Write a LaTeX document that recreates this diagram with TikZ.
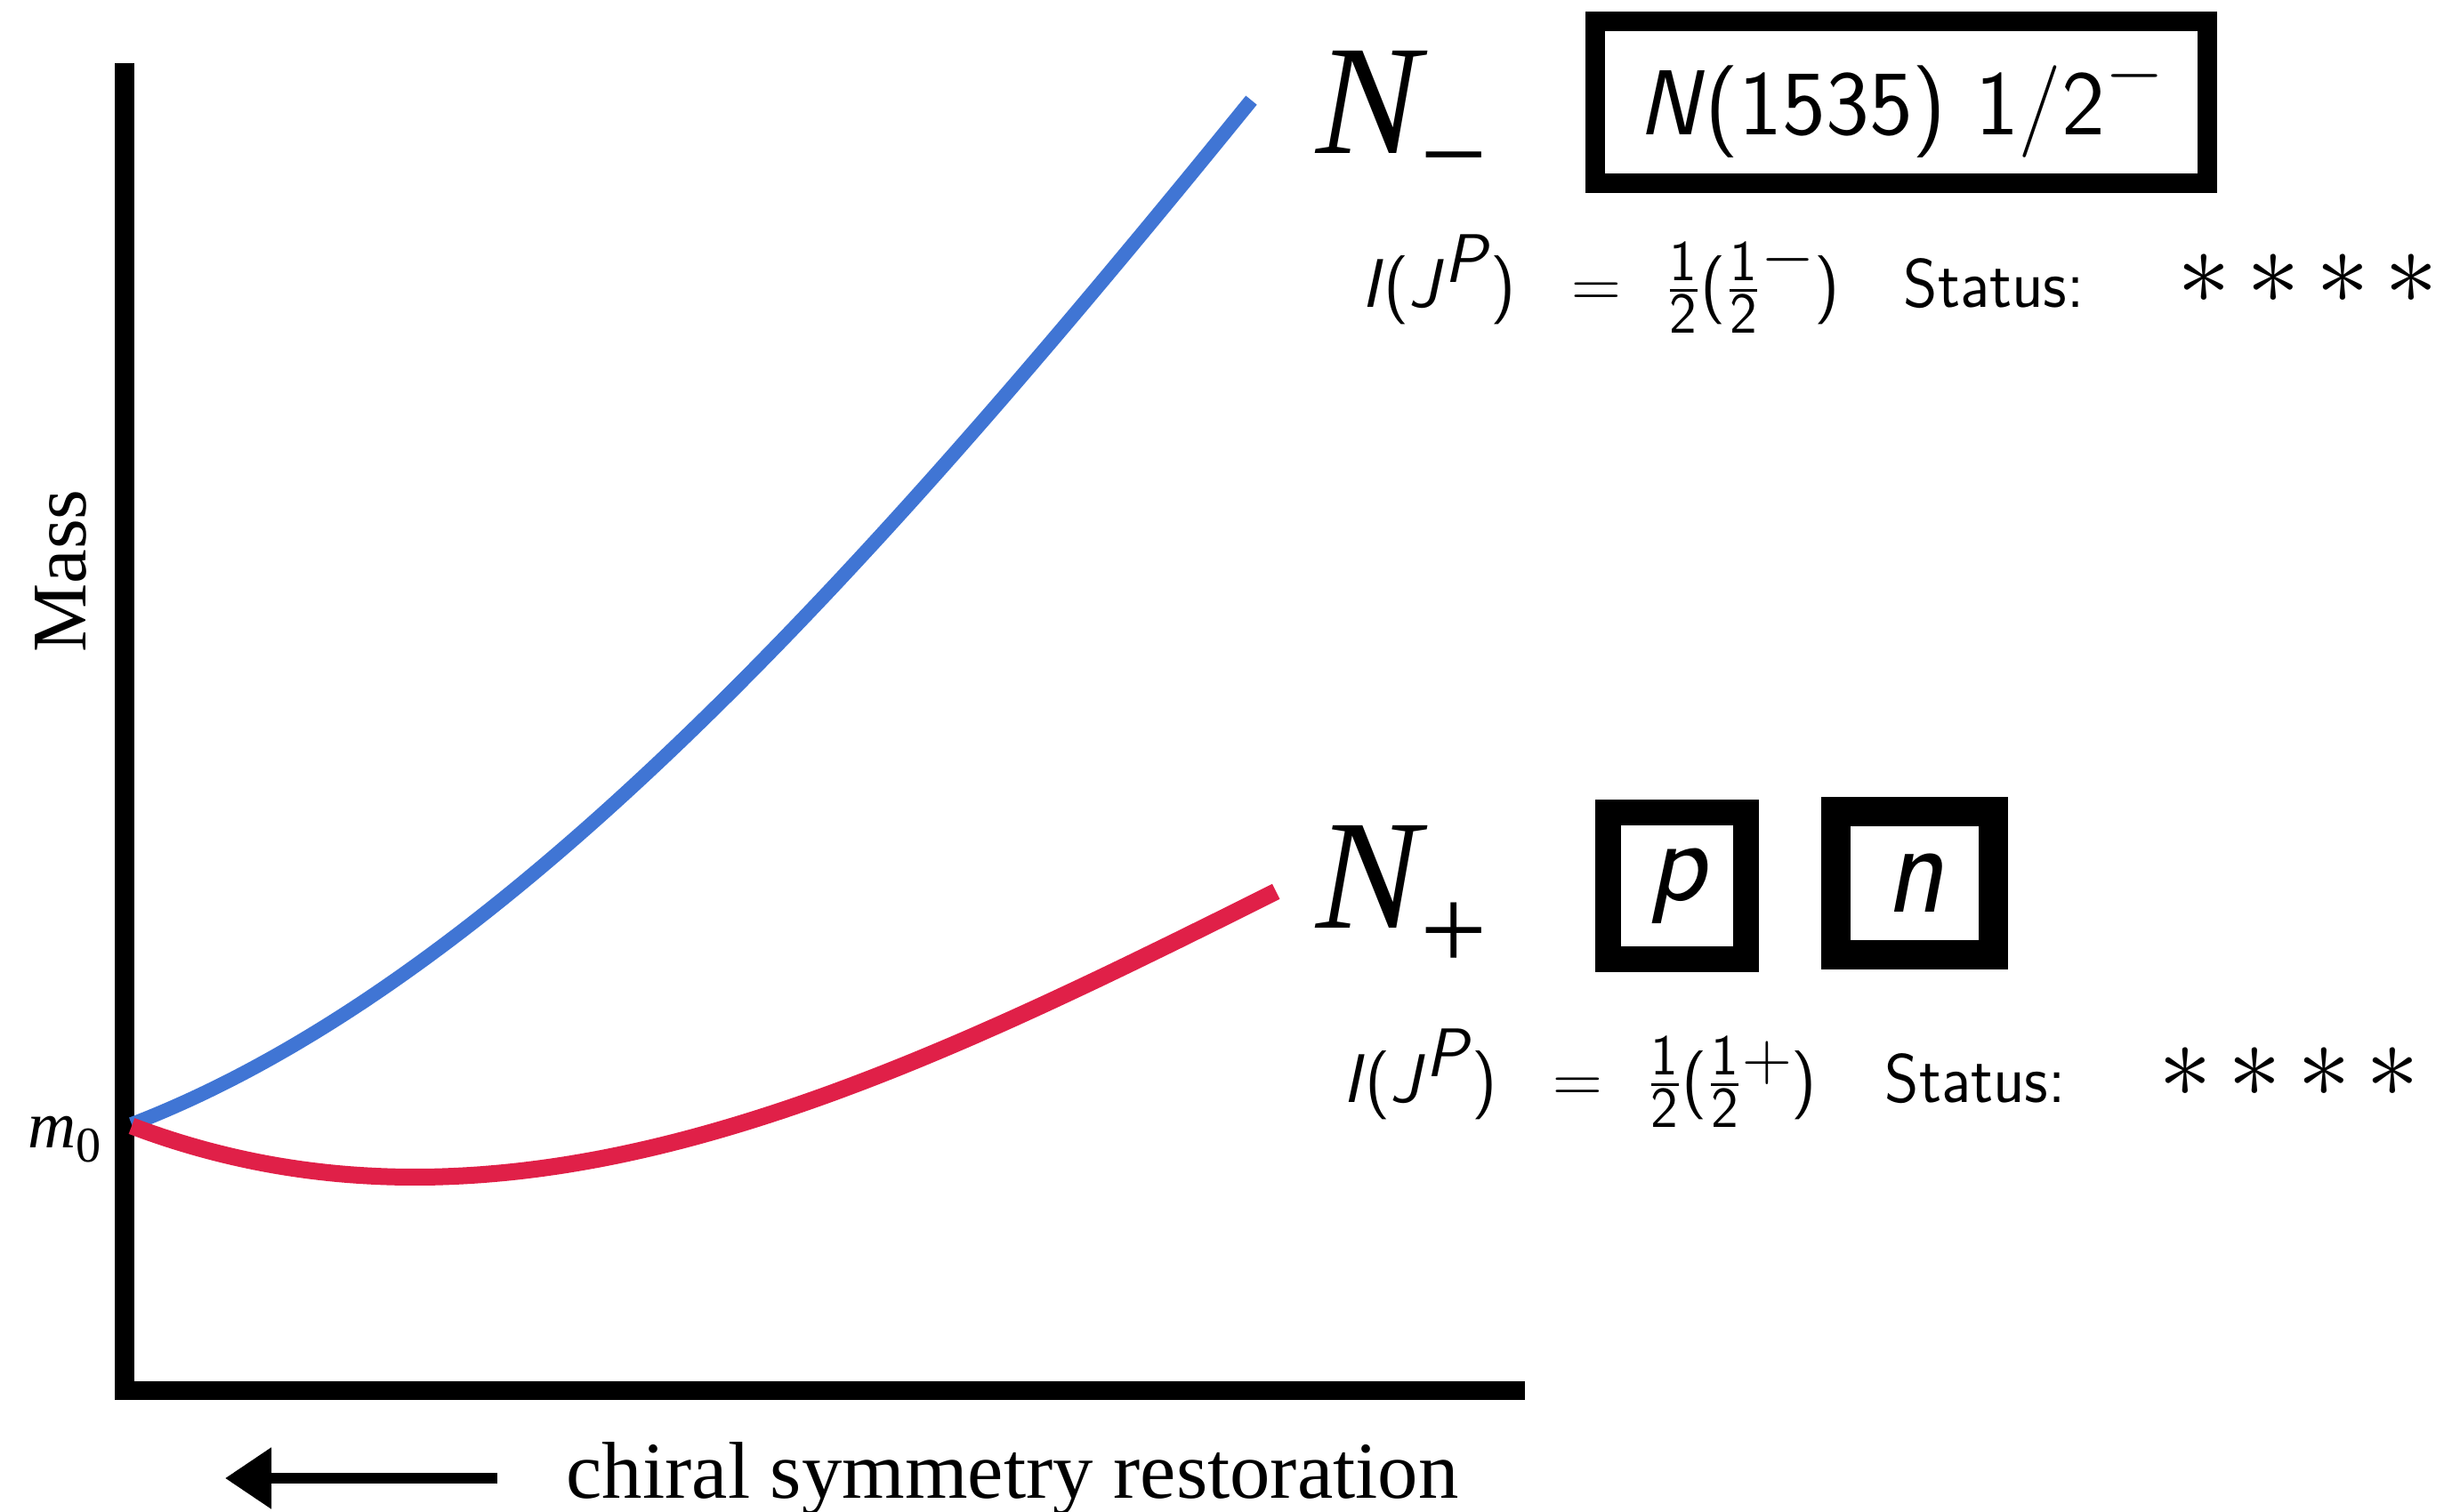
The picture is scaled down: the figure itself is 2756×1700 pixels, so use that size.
\RequirePackage{fix-cm}
\documentclass[tikz,border=0pt]{standalone}
\usepackage{amsmath}
\usepackage{fontspec}
\setmainfont{Liberation Serif}
\usetikzlibrary{arrows.meta,positioning}
\definecolor{upblue}{RGB}{64,117,212}
\definecolor{downred}{RGB}{224,32,72}
\newcommand{\halffrac}{\tfrac{\text{\fontsize{18.5}{20}\selectfont 1}}{\text{\fontsize{18.5}{20}\selectfont 2}}}
\tikzset{
  chalk/.style={line width=0.21cm, black, line join=miter},
  chalkarrow/.style={line width=0.12cm, black, -{Triangle[length=0.52cm, width=0.66cm]}},
  curve/.style={line width=0.17cm, #1},
  axislabel/.style={inner sep=0pt, font=\fontsize{#1}{#1}\selectfont},
  bigN/.style={anchor=base west, inner sep=0pt, font=\fontsize{50}{50}\selectfont\itshape},
  tag/.style={rectangle, draw, line width=#1, inner sep=0pt},
  info/.style={anchor=base west, inner sep=0pt, font=\fontsize{22}{26}\selectfont\sffamily},
  stars/.style={anchor=base west, inner sep=0pt, font=\fontsize{34}{34}\selectfont},
}

\begin{document}
\begin{tikzpicture}[x=0.01cm, y=-0.01cm]
\useasboundingbox (0,0) rectangle (2756,1700);

% -------------------- Axes --------------------
\coordinate (ytop) at (140,71);
\coordinate (xend) at (1714,1563);
\draw[chalk] (ytop) |- (xend);

\node[axislabel=24.7, rotate=90] (mass) at (68,642) {Mass};
\node[axislabel=21.3, anchor=base west] (mzero) at (31,1290)
    {\itshape m\raisebox{-0.16cm}{\upshape\fontsize{16}{16}\selectfont 0}};

\coordinate (arrowstart) at (559,1662);
\coordinate (arrowtip) at (253,1662);
\draw[chalkarrow] (arrowstart) -- (arrowtip);
\node[axislabel=25.8, anchor=base west] (restore) at (636,1684) {chiral symmetry restoration};

% -------------------- Mass curves --------------------
\coordinate (m0) at (148,1265);
\draw[curve=upblue, line width=0.16cm] plot[domain=0:1.259, samples=80, smooth]
    ({148+1000*\x}, {1264-1000*(0.3845*\x+0.5907*\x*\x-0.1345*\x*\x*\x)});
\draw[curve=downred, line width=0.19cm] plot[domain=0:1.287, samples=80, smooth]
    ({148+1000*\x}, {1266+1000*(0.37926*\x-0.67982*\x*\x+0.17541*\x*\x*\x)});

% -------------------- N_- : N(1535) --------------------
\node[bigN] (nminus) at (1479,173)
    {N\raisebox{-0.45cm}{\upshape\fontsize{38}{38}\selectfont −}};
\node[tag=0.22cm, minimum width=6.88cm, minimum height=1.82cm,
      text height=0.72cm, text depth=0cm,
      font=\fontsize{29.5}{31}\selectfont\sffamily] (n1535) at (2137,115)
    {\textit{N}(1535) 1/2\raisebox{0.44cm}{\fontsize{24}{24}\selectfont$-$}\hspace{0.16cm}};

\node[info] (spin1) at (1530,346) {\textit{I}(\textit{J}\raisebox{0.28cm}{\textit{P}})};
\node[info] (eq1) at (1766,346) {$=$};
\node[info] (frac1) at (1872,346) {$\halffrac$($\halffrac$\raisebox{0.34cm}{$-$})};
\node[info] (status1) at (2139,346) {\scalebox{0.95}[1]{Status:}};
\node[stars] (rate1) at (2447,342)
    {$\ast$\hspace{0.18cm}$\ast$\hspace{0.18cm}$\ast$\hspace{0.18cm}$\ast$};

% -------------------- N_+ : p, n --------------------
\node[bigN] (nplus) at (1479,1043)
    {N\raisebox{-0.47cm}{\upshape\fontsize{38}{38}\selectfont +}};
\node[tag=0.29cm, minimum width=1.55cm, minimum height=1.64cm,
      font=\fontsize{38}{38}\selectfont\sffamily\itshape] (proton) at (1885,996) {p};
\node[tag=0.33cm, minimum width=1.76cm, minimum height=1.61cm,
      font=\fontsize{38}{38}\selectfont\sffamily\itshape] (neutron) at (2152,993)
    {\scalebox{1}[1.12]{n}};

\node[info] (spin2) at (1509,1239) {\textit{I}(\textit{J}\raisebox{0.28cm}{\textit{P}})};
\node[info] (eq2) at (1745,1239) {$=$};
\node[info] (frac2) at (1851,1239) {$\halffrac$($\halffrac$\raisebox{0.24cm}{$+$})};
\node[info] (status2) at (2118,1239) {\scalebox{0.95}[1]{Status:}};
\node[stars] (rate2) at (2426,1233)
    {$\ast$\hspace{0.18cm}$\ast$\hspace{0.18cm}$\ast$\hspace{0.18cm}$\ast$};

\end{tikzpicture}
\end{document}
